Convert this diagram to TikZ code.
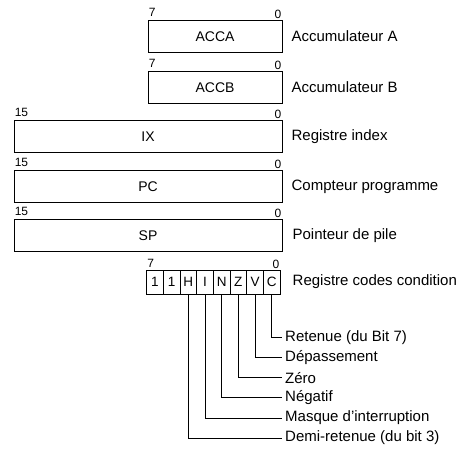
\documentclass[tikz,border=0pt]{standalone}
\usepackage{fontspec}
\setmainfont{Liberation Sans}
\usetikzlibrary{positioning}

\tikzset{
  reg/.style={draw, line width=0.9pt, minimum height=32pt, inner sep=0pt, font=\fontsize{14}{16}\selectfont},
  cell/.style={draw, line width=0.9pt, minimum width=16.67pt, minimum height=24pt, inner sep=0pt, font=\fontsize{13.5}{15}\selectfont},
  bitnum/.style={font=\fontsize{12}{13}\selectfont, inner sep=1pt},
  regname/.style={font=\fontsize{15}{17}\selectfont, anchor=west, inner sep=0pt},
  flagname/.style={font=\fontsize{15}{17}\selectfont, anchor=west, inner sep=3pt},
  lead/.style={line width=0.8pt}
}

\begin{document}
\begin{tikzpicture}[x=1pt, y=-1pt]
\useasboundingbox (0,0) rectangle (465,471);

% registres
\node[reg, minimum width=134pt] (acca) at (215,36.5) {ACCA};
\node[reg, minimum width=134pt] (accb) at (215,87.5) {ACCB};
\node[reg, minimum width=268pt] (ix) at (148,136.5) {IX};
\node[reg, minimum width=268pt] (pc) at (148,186.5) {PC};
\node[reg, minimum width=268pt] (sp) at (148,235.5) {SP};

% numeros de bits
\foreach \r/\h in {acca/7, accb/7, ix/15, pc/15, sp/15} {
  \node[bitnum, above right, yshift=2pt] at (\r.north west) {\h};
  \node[bitnum, above left] at (\r.north east) {0};
}

% noms des registres
\node[regname, right=9pt of acca] {Accumulateur A};
\node[regname, right=9pt of accb] {Accumulateur B};
\node[regname, right=9pt of ix] {Registre index};
\node[regname, right=9pt of pc] {Compteur programme};
\node[regname, right=10pt of sp] {Pointeur de pile};

% registre codes condition
\foreach \t [count=\n from 0] in {1,1,H,I,N,Z,V,C}
  \node[cell] (b\n) at (155+16.67*\n,282) {\t};
\node[bitnum, above right, yshift=1pt] at (b0.north west) {7};
\node[bitnum, above left] at (b7.north east) {0};
\node[regname, right=12pt of b7] {Registre codes condition};

% indicateurs
\foreach \c/\t [count=\k from 0] in {7/Retenue (du Bit 7), 6/Dépassement, 5/Zéro, 4/Négatif, 3/Masque d’interruption, 2/Demi-retenue (du bit 3)} {
  \node[flagname] (flag\k) at (282,337.5+20.1*\k) {\t};
  \draw[lead] (b\c.south) |- (flag\k.west);
}
\end{tikzpicture}
\end{document}
